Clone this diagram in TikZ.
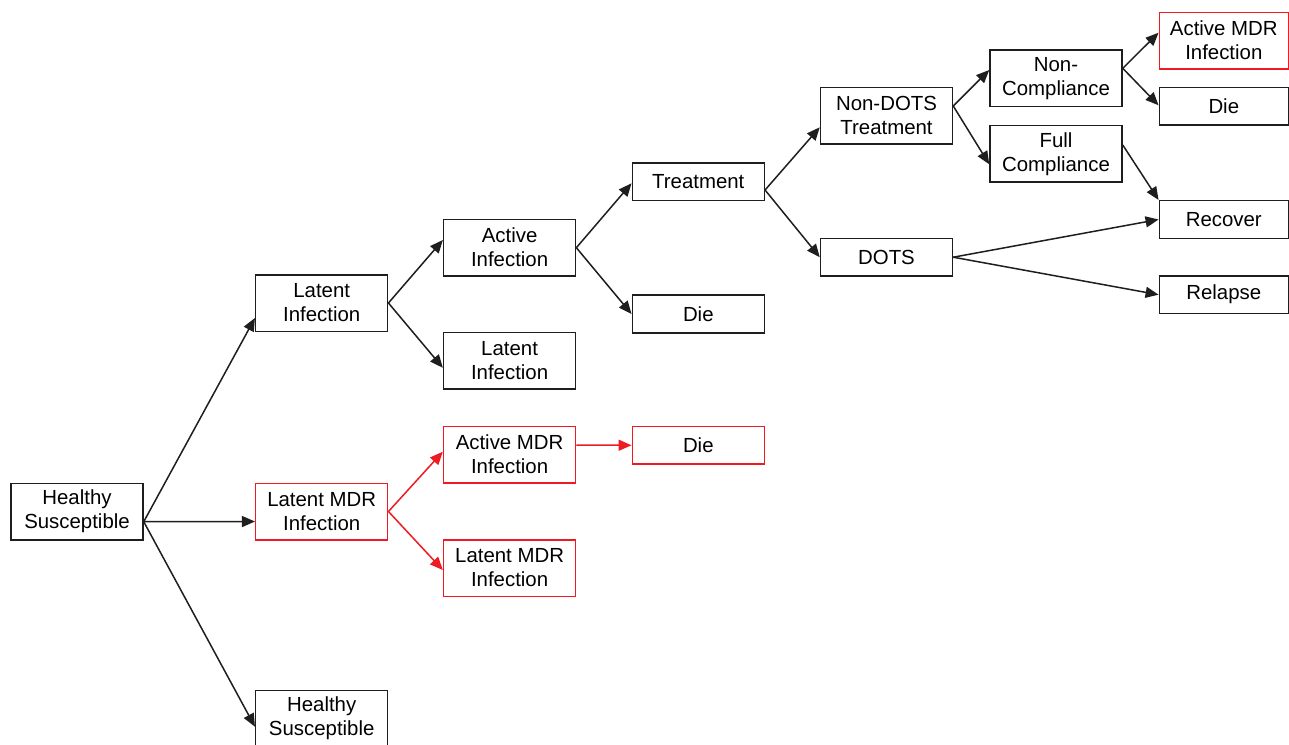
\documentclass[tikz,border=0pt]{standalone}
\usepackage{fontspec}
\setmainfont{Liberation Sans}
\usetikzlibrary{arrows.meta}
\definecolor{mdred}{RGB}{237,28,36}
\definecolor{lineblk}{RGB}{30,30,30}
\tikzset{
  box/.style={draw=lineblk, line width=1.5pt, rectangle, align=center,
    font=\fontsize{20.4}{24}\selectfont, inner sep=0pt, minimum width=132pt},
  tallbox/.style={box, minimum height=56.5pt},
  shortbox/.style={box, minimum height=37.6pt},
  lastcol/.style={minimum width=129pt},
  mdrbox/.style={draw=mdred},
  conn/.style={draw=lineblk, line width=1.5pt, -{Triangle[length=13pt,width=11pt]}},
  mdrconn/.style={conn, draw=mdred, fill=mdred},
}
\begin{document}
\begin{tikzpicture}[x=1pt,y=-1pt]
\useasboundingbox (0,0) rectangle (1289,744);
% column 0
\node[tallbox] (hs0) at (77,511.7) {Healthy\\Susceptible};
% column 1
\node[tallbox] (li1) at (321.7,303) {Latent\\Infection};
\node[tallbox, mdrbox] (lm1) at (321.7,511.5) {Latent MDR\\Infection};
\node[tallbox] (hs1) at (321.7,718.7) {Healthy\\Susceptible};
% column 2
\node[tallbox] (ai2) at (509.6,247.7) {Active\\Infection};
\node[tallbox] (li2) at (509.6,360.8) {Latent\\Infection};
\node[tallbox, mdrbox] (am2) at (509.6,454.7) {Active MDR\\Infection};
\node[tallbox, mdrbox] (lm2) at (509.6,568) {Latent MDR\\Infection};
% column 3
\node[shortbox] (tr3) at (698.3,181.7) {Treatment};
\node[shortbox] (die3) at (698.3,314) {Die};
\node[shortbox, mdrbox] (dier3) at (698.3,445.3) {Die};
% column 4
\node[tallbox] (nd4) at (886.5,115.7) {Non-DOTS\\Treatment};
\node[shortbox] (dots4) at (886.5,257.2) {DOTS};
% column 5
\node[tallbox] (nc5) at (1056,78.3) {Non-\\Compliance};
\node[tallbox] (fc5) at (1056,153.8) {Full\\Compliance};
% column 6
\node[tallbox, lastcol, mdrbox] (am6) at (1223.8,40.7) {Active MDR\\Infection};
\node[shortbox, lastcol] (die6) at (1223.8,106.3) {Die};
\node[shortbox, lastcol] (rec6) at (1223.8,219.5) {Recover};
\node[shortbox, lastcol] (rel6) at (1223.8,294.7) {Relapse};
% connectors
\path[conn] ([yshift=-10pt]hs0.east) -- ([yshift=-15pt]li1.west);
\path[conn] ([yshift=-10pt]hs0.east) -- ([yshift=-10pt]lm1.west);
\path[conn] ([yshift=-10pt]hs0.east) -- ([yshift=-8pt]hs1.west);
\path[conn] (li1.east) -- ([yshift=7.7pt]ai2.west);
\path[conn] (li1.east) -- ([yshift=-7pt]li2.west);
\path[mdrconn] (lm1.east) -- ([yshift=3pt]am2.west);
\path[mdrconn] (lm1.east) -- ([yshift=-2pt]lm2.west);
\path[mdrconn] ([yshift=9.7pt]am2.east) -- (dier3.west);
\path[conn] (ai2.east) -- ([yshift=-1.6pt]tr3.west);
\path[conn] (ai2.east) -- (die3.west);
\path[conn] ([yshift=-8.3pt]tr3.east) -- ([yshift=-11.6pt]nd4.west);
\path[conn] ([yshift=-8.3pt]tr3.east) -- (dots4.west);
\path[conn] ([yshift=9.7pt]nd4.east) -- ([yshift=8.3pt]nc5.west);
\path[conn] ([yshift=9.7pt]nd4.east) -- ([yshift=-10.5pt]fc5.west);
\path[conn] ([yshift=10pt]nc5.east) -- ([yshift=8pt]am6.west);
\path[conn] ([yshift=10pt]nc5.east) -- ([yshift=1pt]die6.west);
\path[conn] ([yshift=8.8pt]fc5.east) -- (rec6.north west);
\path[conn] (dots4.east) -- (rec6.west);
\path[conn] (dots4.east) -- (rel6.west);
\end{tikzpicture}
\end{document}
